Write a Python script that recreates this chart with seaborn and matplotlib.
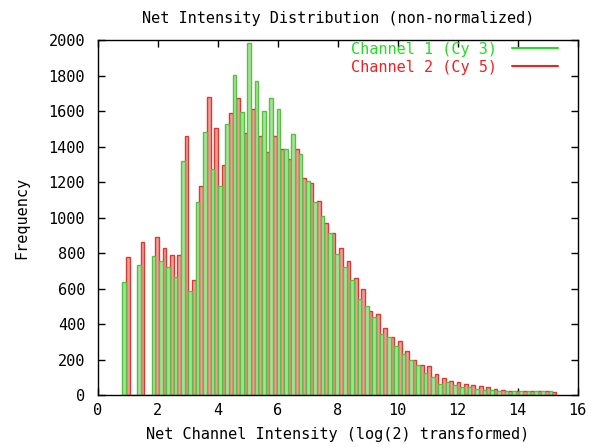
import numpy as np
import pandas as pd
import matplotlib
matplotlib.use("Agg")
import matplotlib.pyplot as plt
import seaborn as sns
from matplotlib.lines import Line2D

# ---- data ----
bin_start = 0.82
bin_width = 0.245
cy3_counts = [635, 0, 735, 0, 782, 754, 720, 663, 1318, 588,
              1090, 1483, 1271, 1180, 1526, 1804, 1592, 1983, 1771, 1600,
              1672, 1611, 1388, 1473, 1358, 1207, 1090, 1010, 912, 793,
              723, 648, 542, 500, 440, 346, 327, 278, 232, 198,
              170, 123, 104, 62, 76, 57, 47, 43, 32, 30,
              28, 25, 22, 20, 22, 20, 22, 25, 20]
cy5_counts = [780, 0, 860, 0, 888, 829, 786, 786, 1462, 648,
              1180, 1681, 1507, 1298, 1590, 1672, 1477, 1611, 1460, 1370,
              1460, 1384, 1328, 1384, 1222, 1195, 1095, 967, 912, 827,
              755, 661, 599, 472, 459, 378, 327, 302, 247, 198,
              170, 162, 116, 98, 79, 72, 62, 57, 50, 45,
              35, 30, 25, 25, 22, 22, 25, 22, 15]
series_labels = ["Channel 1 (Cy 3)", "Channel 2 (Cy 5)"]
x_ticks = [0, 2, 4, 6, 8, 10, 12, 14, 16]
y_ticks = [0, 200, 400, 600, 800, 1000, 1200, 1400, 1600, 1800, 2000]
title = "Net Intensity Distribution (non-normalized)"
x_label = "Net Channel Intensity (log(2) transformed)"
y_label = "Frequency"

line_colors = {series_labels[0]: "#22dd22", series_labels[1]: "#ee2222"}
fill_colors = {series_labels[0]: "#a6e296", series_labels[1]: "#f29c98"}
edge_colors = {series_labels[0]: "#58c040", series_labels[1]: "#d83a30"}

n = len(cy3_counts)
edges = [float(bin_start + bin_width * k) for k in range(n + 1)]
centers = [(edges[k] + edges[k + 1]) / 2 for k in range(n)]
df = pd.DataFrame({
    "intensity": centers + centers,
    "freq": cy3_counts + cy5_counts,
    "channel": [series_labels[0]] * n + [series_labels[1]] * n,
})

sns.set_style("ticks")
plt.rcParams["font.family"] = ["DejaVu Sans Mono"]
FS = 11

fig = plt.figure(figsize=(5.92, 4.47), dpi=100)
ax = fig.add_axes([0.165, 0.1163, 0.811, 0.7942])

sns.histplot(data=df, x="intensity", weights="freq", hue="channel",
             hue_order=series_labels, bins=edges, multiple="dodge", shrink=1,
             palette=fill_colors, alpha=1, linewidth=1, legend=False, ax=ax)

# per-channel edge colours
gfc = matplotlib.colors.to_rgba(fill_colors[series_labels[0]])
for p in ax.patches:
    fc = p.get_facecolor()
    if np.allclose(fc, gfc, atol=0.02):
        p.set_edgecolor(edge_colors[series_labels[0]])
    else:
        p.set_edgecolor(edge_colors[series_labels[1]])
    p.set_linewidth(1)

ax.set_xlim(0, 16)
ax.set_ylim(0, 2000)
ax.set_xticks(x_ticks)
ax.set_yticks(y_ticks)
ax.tick_params(direction="in", top=True, right=True, length=5, width=1,
               color="black", labelsize=FS, labelcolor="black")
ax.tick_params(axis="y", pad=9)
ax.tick_params(axis="x", pad=6)
for s in ax.spines.values():
    s.set_visible(True)
    s.set_color("black")
    s.set_linewidth(1)

ax.set_title(title, fontsize=FS, pad=12, color="black")
ax.set_xlabel(x_label, fontsize=FS, labelpad=6, color="black")
ax.set_ylabel(y_label, fontsize=FS, labelpad=14, color="black")

handles = [Line2D([], [], color=line_colors[s], lw=1.5) for s in series_labels]
leg = ax.legend(handles, series_labels, loc="upper right",
                bbox_to_anchor=(0.958, 0.995), frameon=False, markerfirst=False,
                fontsize=FS, handlelength=3.0, handletextpad=1.0,
                labelspacing=0.2, borderaxespad=0, borderpad=0)
for t, s in zip(leg.get_texts(), series_labels):
    t.set_color(line_colors[s])

fig.savefig("out.png", dpi=100)
